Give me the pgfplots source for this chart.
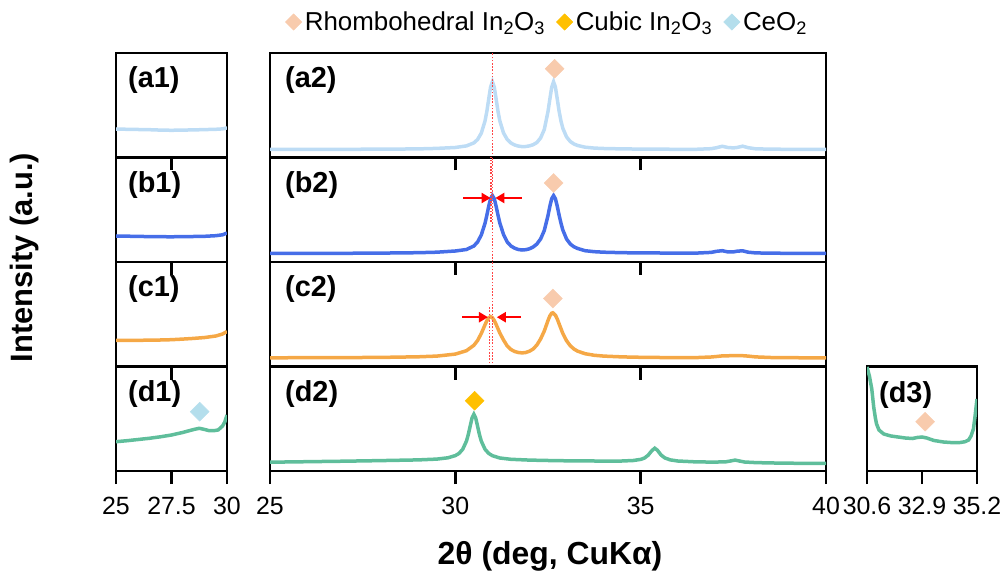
\documentclass[border=0pt]{standalone}
\usepackage{pgfplots}
\pgfplotsset{compat=1.18}
\usepackage{fontspec}
\setmainfont{Liberation Sans}
\usetikzlibrary{arrows.meta}
\definecolor{ca}{RGB}{189,220,245}
\definecolor{cb}{RGB}{70,110,232}
\definecolor{cc}{RGB}{245,168,70}
\definecolor{cd}{RGB}{95,190,155}
\definecolor{rhomb}{RGB}{248,203,173}
\definecolor{cubic}{RGB}{255,192,0}
\definecolor{ceo}{RGB}{180,222,236}
\definecolor{dotred}{RGB}{255,70,70}
\pgfplotsset{
  panel/.style={scale only axis, ymin=0, ymax=104.5, height=104.5bp,
    axis line style={line width=2.6bp},
    tick style={black, line width=2.6bp},
    major tick length=13bp, tick align=outside,
    xtick pos=left, ytick=\empty,
    xticklabel style={font=\fontsize{25}{25}\selectfont, yshift=-10bp},
    /pgf/number format/assume math mode=true},
  lpanel/.style={panel, width=111bp, xmin=25, xmax=30, xtick={25,27.5,30}},
  mpanel/.style={panel, width=556bp, xmin=25, xmax=40, xtick={25,30,35,40}},
  nolab/.style={xticklabels={}},
  curve/.style={line width=3.5bp, no marks},
  dia/.style={only marks, color=#1, mark=square*, mark size=6.7bp, mark options={rotate=45, solid, draw=#1, fill=#1}},
  legdia/.style={only marks, color=#1, mark=square*, mark size=5.8bp, mark options={rotate=45, solid, draw=#1, fill=#1}},
}
\tikzset{
  plab/.style={anchor=west, inner sep=0pt, font=\fontsize{29}{29}\selectfont\bfseries},
  arr/.style={red, line width=2.5bp, -{Triangle[length=9bp,width=10bp]}},
  dot/.style={dotred, line width=1.4bp, dash pattern=on 1.6bp off 1.6bp}
}
\begin{document}
\begin{tikzpicture}
\path[use as bounding box] (0,0) rectangle (1004bp,574bp);
% ---------------- row a ----------------
\begin{axis}[lpanel, nolab, at={(116bp,416.5bp)}, anchor=south west]
\addplot[curve, ca] coordinates {(25,28.5)(25.5,28.2)(26,28.0)(26.5,27.8)(27,27.4)(27.5,27.2)(28,27.4)(28.5,27.6)(29,27.9)(29.5,28.2)(29.8,28.6)(30,29.6)};
\node[plab] at (rel axis cs:0,1) [xshift=12bp, yshift=-27.5bp] {(a1)};
\end{axis}
\begin{axis}[mpanel, nolab, at={(270bp,416.5bp)}, anchor=south west,
  legend style={at={(0.498,1)}, anchor=center, yshift=31bp, draw=none, fill=none,
    legend columns=3, inner sep=0pt, font=\fontsize{26}{26}\selectfont,
    nodes={inner sep=1.5bp},
    /tikz/every odd column/.append style={column sep=1.5bp},
    /tikz/every even column/.append style={column sep=10bp}},
  legend cell align=left]
\addlegendimage{legdia=rhomb}
\addlegendentry{Rhombohedral In\textsubscript{2}O\textsubscript{3}}
\addlegendimage{legdia=cubic}
\addlegendentry{Cubic In\textsubscript{2}O\textsubscript{3}}
\addlegendimage{legdia=ceo}
\addlegendentry{CeO\textsubscript{2}}
\addplot[curve, ca, forget plot] coordinates {(25,8.1)(26,8.1)(27,8.2)(28,8.3)(29,8.6)(29.5,9.1)(30,10.0)(30.3,11.6)(30.5,14.6)(30.6,18.0)(30.7,24.3)(30.8,36.4)(30.85,46.1)(30.9,58.3)(30.95,70.3)(31,75.7)(31.05,70.4)(31.1,58.6)(31.15,46.4)(31.2,36.6)(31.3,24.5)(31.4,18.0)(31.5,14.5)(31.6,12.5)(31.7,11.4)(31.8,10.9)(31.9,11.0)(32,11.6)(32.1,12.8)(32.2,15.0)(32.3,19.5)(32.4,28.0)(32.5,46.0)(32.55,58.4)(32.6,70.3)(32.65,75.7)(32.7,70.3)(32.75,58.4)(32.8,46.2)(32.85,36.5)(32.9,29.2)(33,20.6)(33.1,16.0)(33.2,13.5)(33.3,12.0)(33.5,10.3)(33.75,9.4)(34,9.0)(34.5,8.6)(35,8.4)(35.5,8.3)(36,8.2)(36.5,8.2)(36.9,8.8)(37.05,9.8)(37.2,11.2)(37.35,10.0)(37.5,9.6)(37.6,10.0)(37.75,11.3)(37.9,9.8)(38.1,8.7)(38.5,8.3)(39,8.2)(39.5,8.1)(40,8.1)};
\addplot[dia=rhomb, forget plot] coordinates {(32.68,88.7)};
\draw[dot] (axis cs:31,0) -- (axis cs:31,104.5);
\node[plab] at (rel axis cs:0,1) [xshift=15bp, yshift=-27.5bp] {(a2)};
\end{axis}
% ---------------- row b ----------------
\begin{axis}[lpanel, nolab, at={(116bp,312bp)}, anchor=south west]
\addplot[curve, cb] coordinates {(25,26)(25.5,25.8)(26,25.6)(26.5,25.4)(27,25.3)(27.5,25.2)(28,25.4)(28.5,25.5)(29,25.7)(29.5,26.3)(29.8,27.2)(30,29)};
\node[plab] at (rel axis cs:0,1) [xshift=12bp, yshift=-27.5bp] {(b1)};
\end{axis}
\begin{axis}[mpanel, nolab, at={(270bp,312bp)}, anchor=south west]
\addplot[curve, cb] coordinates {(25,8.6)(26,8.7)(27,8.7)(28,8.9)(29,9.3)(29.5,9.8)(30,11.0)(30.3,12.5)(30.5,16.0)(30.6,20.0)(30.7,27.0)(30.8,38.6)(30.85,46.7)(30.9,55.6)(30.95,63.2)(31,66.4)(31.05,63.3)(31.1,55.8)(31.15,47.0)(31.2,39.0)(31.3,27.5)(31.4,20.0)(31.5,16.0)(31.6,13.8)(31.7,12.5)(31.8,12.0)(31.9,12.3)(32,13.2)(32.1,15.0)(32.2,18.0)(32.3,23.0)(32.4,31.5)(32.5,46.5)(32.55,55.7)(32.6,63.3)(32.65,66.4)(32.7,63.3)(32.75,55.7)(32.8,46.8)(32.85,38.8)(32.9,32.0)(33,23.0)(33.1,18.0)(33.2,15.2)(33.3,13.5)(33.5,11.3)(33.75,10.3)(34,9.8)(34.5,9.3)(35,9.1)(35.5,9.0)(36,8.9)(36.5,8.9)(36.9,9.6)(37.05,10.7)(37.2,11.3)(37.35,10.1)(37.5,10.1)(37.6,10.8)(37.75,11.2)(37.9,9.8)(38.1,9.1)(38.5,8.8)(39,8.7)(39.5,8.6)(40,8.6)};
\addplot[dia=rhomb] coordinates {(32.65,79)};
\draw[dot] (axis cs:31,0) -- (axis cs:31,104.5);
\draw[dot] (axis cs:30.96,40) -- (axis cs:30.96,104.5);
\draw[arr] (axis cs:30.21,64) -- (axis cs:30.95,64);
\draw[arr] (axis cs:31.79,64) -- (axis cs:31.08,64);
\node[plab] at (rel axis cs:0,1) [xshift=15bp, yshift=-27.5bp] {(b2)};
\end{axis}
% ---------------- row c ----------------
\begin{axis}[lpanel, nolab, at={(116bp,207.5bp)}, anchor=south west]
\addplot[curve, cc] coordinates {(25,26)(25.5,26.1)(26,26.2)(26.5,26.3)(27,26.5)(27.5,26.8)(28,27.4)(28.5,28.1)(29,29)(29.5,30.5)(29.8,32.5)(30,35)};
\node[plab] at (rel axis cs:0,1) [xshift=12bp, yshift=-27.5bp] {(c1)};
\end{axis}
\begin{axis}[mpanel, nolab, at={(270bp,207.5bp)}, anchor=south west]
\addplot[curve, cc] coordinates {(25,8.7)(26,8.8)(27,8.9)(28,9.1)(29,9.7)(29.5,10.4)(30,12.4)(30.3,15.8)(30.5,21.2)(30.6,26.0)(30.7,33.0)(30.8,41.7)(30.85,45.7)(30.9,48.7)(30.95,49.9)(31,48.8)(31.05,46.0)(31.1,42.1)(31.2,33.5)(31.3,26.5)(31.4,20.5)(31.5,17.0)(31.6,15.0)(31.7,14.0)(31.8,13.6)(31.9,14.0)(32,15.3)(32.1,17.5)(32.2,21.5)(32.3,27.5)(32.4,35.5)(32.5,46.0)(32.55,50.6)(32.6,53.3)(32.63,53.7)(32.7,51.3)(32.75,47.5)(32.8,42.6)(32.9,33.0)(33,25.8)(33.1,20.8)(33.2,17.5)(33.3,15.3)(33.5,12.8)(33.75,11.2)(34,10.4)(34.5,9.6)(35,9.2)(35.5,9.0)(36,8.9)(36.5,8.9)(36.9,9.5)(37.05,10.0)(37.2,10.6)(37.35,10.7)(37.5,10.9)(37.6,10.8)(37.75,10.8)(37.9,10.4)(38.1,9.6)(38.5,9.0)(39,8.8)(39.5,8.7)(40,8.7)};
\addplot[dia=rhomb] coordinates {(32.63,68)};
\draw[dot] (axis cs:31,0) -- (axis cs:31,104.5);
\draw[dot] (axis cs:30.92,0) -- (axis cs:30.92,60);
\draw[arr] (axis cs:30.18,49.3) -- (axis cs:30.88,49.3);
\draw[arr] (axis cs:31.77,49.3) -- (axis cs:31.12,49.3);
\node[plab] at (rel axis cs:0,1) [xshift=15bp, yshift=-27.5bp] {(c2)};
\end{axis}
% ---------------- row d ----------------
\begin{axis}[lpanel, at={(116bp,103bp)}, anchor=south west, xticklabels={25,27.5,30}]
\addplot[curve, cd] coordinates {(25,29.3)(25.5,30.3)(26,31.5)(26.5,32.7)(27,34.2)(27.5,36)(28,38.5)(28.3,40.3)(28.5,41.5)(28.75,42.7)(29,41.5)(29.2,40.3)(29.4,40.3)(29.6,41)(29.8,45)(29.9,49)(30,56)};
\addplot[dia=ceo] coordinates {(28.77,59.3)};
\node[plab] at (rel axis cs:0,1) [xshift=12bp, yshift=-27.5bp] {(d1)};
\end{axis}
\begin{axis}[mpanel, at={(270bp,103bp)}, anchor=south west, xticklabels={25,30,35,40}]
\addplot[curve, cd] coordinates {(25,8.8)(26,9.3)(27,9.8)(28,10.4)(29,11.1)(29.5,11.9)(29.8,13.2)(30,15.4)(30.1,17.6)(30.2,21.8)(30.3,29.9)(30.35,36.5)(30.4,44.8)(30.45,52.9)(30.5,56.6)(30.55,52.9)(30.6,44.8)(30.65,36.5)(30.7,29.9)(30.8,21.8)(30.9,17.6)(31,15.3)(31.2,13.0)(31.5,11.7)(32,10.9)(32.5,10.5)(33,10.2)(33.5,10.1)(34,9.9)(34.5,10.0)(34.8,10.5)(35,11.6)(35.1,12.9)(35.2,15.7)(35.3,20.3)(35.38,22.8)(35.45,20.8)(35.55,16.0)(35.65,13.1)(35.8,11.1)(36,10.0)(36.5,9.1)(37,8.9)(37.3,9.2)(37.45,10.2)(37.55,10.9)(37.65,10.1)(37.8,9.0)(38.1,8.4)(38.5,8.05)(39,7.8)(39.5,7.6)(40,7.5)};
\addplot[dia=cubic] coordinates {(30.52,70.3)};
\node[plab] at (rel axis cs:0,1) [xshift=15bp, yshift=-27.5bp] {(d2)};
\end{axis}
\begin{axis}[panel, width=110bp, xmin=30.6, xmax=35.2, xtick={30.6,32.9,35.2}, xticklabels={30.6,32.9,35.2},
  at={(867bp,103bp)}, anchor=south west]
\addplot[curve, cd] coordinates {(30.6,104)(30.7,95)(30.8,82)(30.88,64)(30.95,53)(31.0,47)(31.1,41)(31.3,37)(31.6,35)(31.9,34)(32.2,33)(32.5,32.5)(32.7,33.5)(32.9,34)(33.1,33)(33.4,30.5)(33.8,29)(34.2,28.3)(34.5,28.5)(34.7,29.3)(34.85,31)(34.95,35)(35.05,42)(35.12,55)(35.17,66)(35.2,72)};
\addplot[dia=rhomb] coordinates {(33.03,49.3)};
\node[plab] at (rel axis cs:0,1) [xshift=12bp, yshift=-29bp] {(d3)};
\end{axis}
% axis titles
\node[font=\fontsize{31}{31}\selectfont\bfseries, rotate=90] at (25bp,316.5bp) {Intensity (a.u.)};
\node[font=\fontsize{32}{32}\selectfont\bfseries] at (550bp,18bp) {2θ (deg, CuKα)};
\end{tikzpicture}
\end{document}
